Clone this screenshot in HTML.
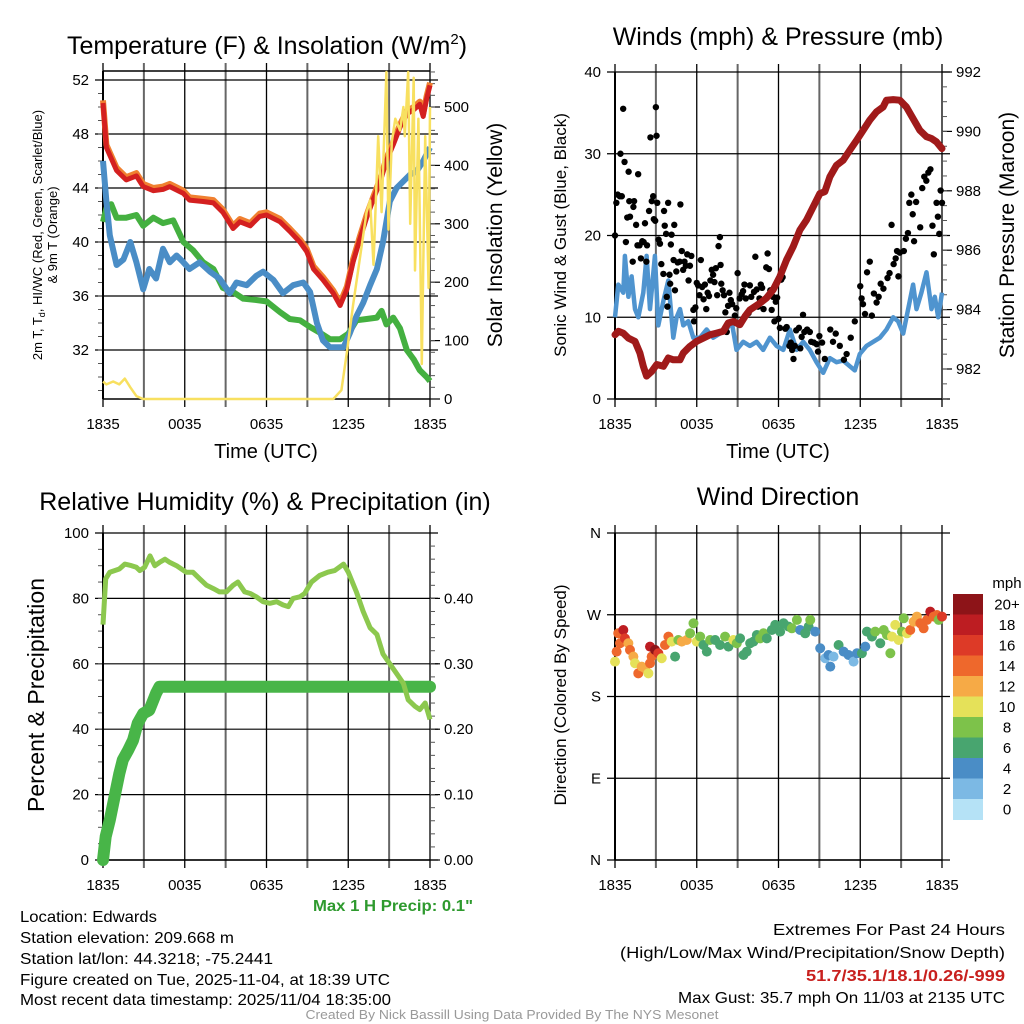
<!DOCTYPE html>
<html><head><meta charset="utf-8"><style>
html,body{margin:0;padding:0;background:#fff;}
svg{display:block;font-family:"Liberation Sans",Arial,sans-serif;}
</style></head><body>
<svg id="fig" width="1024" height="1024" viewBox="0 0 1024 1024" xmlns="http://www.w3.org/2000/svg">
<rect width="1024" height="1024" fill="#fff"/>
<g id="tl"></g>
<g id="tr"></g>
<g id="bl"></g>
<g id="br"></g>
<text x="267" y="54" font-size="25" text-anchor="middle">Temperature (F) &amp; Insolation (W/m<tspan font-size="15" dy="-10">2</tspan><tspan dy="10">)</tspan></text>
<text x="778" y="45" font-size="25" text-anchor="middle">Winds (mph) &amp; Pressure (mb)</text>
<text x="265" y="510" font-size="25" text-anchor="middle">Relative Humidity (%) &amp; Precipitation (in)</text>
<text x="778" y="505" font-size="25" text-anchor="middle">Wind Direction</text>
<text x="393" y="911" font-size="16" font-weight="bold" fill="#2e9a2e" text-anchor="middle" textLength="160" lengthAdjust="spacingAndGlyphs">Max 1 H Precip: 0.1"</text>
<g font-size="16">
<text x="20" y="922" textLength="137" lengthAdjust="spacingAndGlyphs">Location: Edwards</text>
<text x="20" y="943" textLength="214" lengthAdjust="spacingAndGlyphs">Station elevation: 209.668 m</text>
<text x="20" y="964" textLength="253" lengthAdjust="spacingAndGlyphs">Station lat/lon: 44.3218; -75.2441</text>
<text x="20" y="985" textLength="370" lengthAdjust="spacingAndGlyphs">Figure created on Tue, 2025-11-04, at 18:39 UTC</text>
<text x="20" y="1005" textLength="371" lengthAdjust="spacingAndGlyphs">Most recent data timestamp: 2025/11/04 18:35:00</text>
</g>
<g font-size="16" text-anchor="end">
<text x="1005" y="935" textLength="232" lengthAdjust="spacingAndGlyphs">Extremes For Past 24 Hours</text>
<text x="1005" y="958" textLength="385" lengthAdjust="spacingAndGlyphs">(High/Low/Max Wind/Precipitation/Snow Depth)</text>
<text x="1005" y="981" fill="#c8201e" font-weight="bold" textLength="199" lengthAdjust="spacingAndGlyphs">51.7/35.1/18.1/0.26/-999</text>
<text x="1005" y="1003" textLength="327" lengthAdjust="spacingAndGlyphs">Max Gust: 35.7 mph On 11/03 at 2135 UTC</text>
</g>
<text x="512" y="1019" font-size="13" fill="#999" text-anchor="middle" textLength="413" lengthAdjust="spacingAndGlyphs">Created By Nick Bassill Using Data Provided By The NYS Mesonet</text>
</svg>
<script>
// ---------- data ----------
const timeTicks=[0,6,12,18,24];
const timeLabels=["1835","0035","0635","1235","1835"];
const tempTicks=[32,36,40,44,48,52];
const solarTicks=[0,100,200,300,400,500];
const windTicks=[0,10,20,30,40];
const presTicks=[982,984,986,988,990,992];
const rhTicks=[0,20,40,60,80,100];
const precipTicks=[0,0.1,0.2,0.3,0.4];
const precipLabels=["0.00","0.10","0.20","0.30","0.40"];
const dirTicks=[0,90,180,270,360];
const dirLabels=["N","E","S","W","N"];

const tempH=[0,0.25,1.0,1.7,2.45,2.95,3.7,4.4,4.9,5.9,6.35,7.35,8.1,8.8,9.55,10.05,10.8,11.5,12.0,13.0,13.7,14.45,14.95,15.45,16.15,16.9,17.4,17.9,18.35,18.85,19.35,19.85,20.35,20.8,21.3,21.8,22.3,22.8,23.25,23.5,23.75,24];
const tempT=[50.3,47,45.3,44.6,44.9,44.1,43.8,43.9,44.1,43.6,43.1,43,42.9,42.2,41,41.5,41.2,41.9,42,41.5,40.8,40,39.3,38,37.2,36.2,35.3,36.5,38.5,40.2,41.8,43.2,44.5,46,47.2,48.5,49.5,49.8,50.2,49.3,50.6,51.6];
const wcH=[0,0.25,0.5,1.0,1.5,2.0,2.45,2.95,3.4,3.9,4.4,4.9,5.4,5.9,6.35,7.1,7.85,8.55,9.3,9.8,10.55,11.25,11.75,12.5,13.2,13.95,14.7,15.2,15.7,16.15,16.65,17.15,17.65,18.1,18.6,19.1,19.6,20.1,20.55,21.05,21.55,22.05,22.55,23.0,23.5,24];
const wcT=[46,43,40.5,38.3,38.7,40,38.5,36.5,38,37.3,39.5,38.5,39,38.5,38,38.5,37.8,37.3,36.2,37,36.8,37.5,37.8,37.2,36.2,36.8,37,36.3,34,32.7,32.2,32.2,32.2,33.2,34.5,35.5,36.8,38,40,43,44,44.5,45,45.2,46,47];
const tdH=[0,0.25,0.6,1.0,1.7,2.45,2.95,3.7,4.4,5.15,5.9,6.6,7.35,8.1,8.8,9.55,10.3,11.25,12.0,13.0,13.7,14.45,15.2,15.9,16.65,17.4,18.0,18.6,19.35,20.1,20.45,20.8,21.3,21.8,22.3,22.8,23.25,23.75,24];
const tdT=[41.5,42.5,42.8,41.8,41.8,42,41.2,41.8,41.4,41.6,40,39.4,38.5,38,36.6,36.3,35.8,35.7,35.6,34.8,34.3,34.2,33.7,33.3,32.8,32.8,33.2,34.2,34.3,34.4,34.9,33.9,34.4,33.6,32,31.3,30.5,30,29.7];
const solH=[0,0.25,0.75,1.2,1.6,2.0,2.45,2.95,16.9,17.5,17.9,18.35,18.85,19.35,19.6,19.85,20.2,20.45,20.8,20.95,21.2,21.45,21.8,22.05,22.15,22.4,22.55,22.8,22.9,23.15,23.4,23.65,23.9,24];
const solW=[30,25,30,25,35,20,5,0,0,15,80,160,240,320,340,230,450,320,560,290,440,480,460,500,450,560,300,550,220,480,60,450,190,500];

const presH=[0,0.25,0.6,0.98,1.47,1.83,2.08,2.32,2.69,3.06,3.55,3.91,4.28,4.77,5.01,5.5,5.99,6.48,6.97,7.46,7.95,8.31,8.68,9.17,9.54,9.9,10.64,11.12,11.61,12.1,12.59,13.08,13.57,14.06,14.55,15.04,15.4,15.77,16.26,16.75,17.24,17.73,18.22,18.7,19.19,19.68,19.93,20.42,20.9,21.39,21.88,22.37,22.86,23.23,23.59,24];
const presMb=[983.15,983.27,983.21,983.04,982.93,982.54,982.09,981.76,981.92,982.15,982.09,982.37,982.31,982.31,982.54,982.76,982.93,983.04,983.15,983.21,983.27,983.55,983.6,983.49,983.77,983.99,984.22,984.39,984.67,985.11,985.67,986.12,986.68,987.02,987.46,987.91,987.97,988.47,988.86,989.03,989.37,989.7,990.04,990.38,990.66,990.82,991.05,991.07,991.05,990.82,990.43,990.04,989.82,989.76,989.65,989.42];
const windH=[0,0.24,0.61,0.73,0.98,1.22,1.47,1.71,2.08,2.32,2.57,2.93,3.18,3.55,3.91,4.28,4.52,4.77,5.01,5.38,5.75,6.24,6.72,7.21,7.7,8.19,8.56,8.92,9.41,9.9,10.39,10.88,11.37,11.86,12.35,12.84,13.33,13.81,14.3,14.79,15.28,15.77,16.26,16.75,17.24,17.6,17.97,18.46,18.95,19.44,19.93,20.42,20.78,21.15,21.64,21.88,22.13,22.49,22.86,23.23,23.47,23.72,24];
const windMph=[10,14,13,17.5,12.5,15,11,10,13,17.5,11,17.5,9,12,14.5,7.5,10,11,9,9.5,7.5,7.5,8.5,7.5,8,8.5,9.5,6,7,6.5,7,6,7.5,6.5,6,8.5,6,7,6,4.5,3.2,5,4.5,4.7,4,3.5,5.5,6.5,7,7.5,8.5,10,9.5,8,12,14,11,13,15.5,11,12.5,10,13];
const gustH=[0,0.1,0.2,0.35,0.5,0.6,0.4,0.7,0.8,0.9,1.0,1.05,1.1,1.3,1.35,1.4,1.55,1.65,1.7,1.8,1.9,2.0,2.1,2.2,2.3,2.35,2.5,2.6,2.7,2.8,2.85,2.95,3.0,3.05,3.1,3.2,3.3,3.4,3.55,3.6,3.65,3.75,3.8,3.85,3.9,4.0,4.05,4.1,4.15,4.3,4.35,4.4,4.5,4.6,4.8,4.75,4.9,5.0,5.1,5.2,5.3,5.4,5.5,5.6,5.8,5.75,5.9,6.0,6.1,6.2,6.3,6.4,6.5,6.6,6.7,6.8,6.9,7.0,7.1,7.2,7.3,7.4,7.5,7.6,7.7,7.75,7.8,7.9,8.0,8.1,8.2,8.3,8.4,8.5,8.6,8.8,8.9,9.0,9.15,9.3,9.4,9.5,9.6,9.8,9.9,10.0,10.2,10.3,10.4,10.5,10.6,10.7,10.8,10.9,11.0,11.1,11.2,11.3,11.4,11.5,11.6,11.7,11.8,11.9,12.0,12.1,12.2,12.3,12.5,12.6,12.8,12.9,13.0,13.1,13.2,13.3,13.5,13.6,13.7,13.8,13.9,14.1,14.3,14.4,14.6,14.8,14.9,15.0,15.2,15.4,15.8,16.0,16.2,16.5,16.8,17.0,17.3,17.6,18.0,18.1,18.2,18.35,18.5,18.7,18.85,19.0,19.2,19.35,19.5,19.7,20.0,20.15,20.3,20.45,20.6,20.7,20.8,20.9,21.2,21.35,21.5,21.6,21.75,21.85,21.95,22.1,22.4,22.55,22.7,22.85,23.0,23.15,23.3,23.4,23.6,23.7,23.8,23.9,24.0];
const gustMph=[20,24,25,24.8,24.8,35.5,30,29,19.2,22.2,27.8,24.2,22.3,16.8,23.5,24.2,21.3,18.8,27.5,18.8,17.2,19.3,19.2,21.5,16.8,18.8,23,32,24.2,24.8,22,21.8,35.7,32.2,24,19.5,19,16.5,15.3,23,21.2,20.2,12.5,11.3,24,15.2,14.1,18.9,20.1,17,21.3,13.3,15.6,16.7,23.8,16.8,18.1,15.8,16.8,16.3,17.7,14.5,16.3,17.5,9.5,10.9,11.2,14.2,13.9,12.7,17,13.7,12.2,14,11,13,12.6,14.5,15.8,15.2,14.3,16,12.7,18.7,19.8,16.4,14.1,13.3,12.7,10.6,8.2,11.4,13,12.1,11.6,10.2,11.1,15.4,12.3,12.8,13.2,14,12.3,10.5,13.9,12.5,13.1,17.4,13.4,11.3,12.3,14,13.6,11,12.2,16.1,17.8,15.9,13.3,10.9,12.5,9.5,11.9,12.4,9.8,8.7,14.6,14.9,8.6,8.8,6.5,6.9,6,4.9,6.5,8.4,8.7,6.2,7.6,10.3,8.2,8.5,8.2,7,6.9,6.7,5.8,7.7,6.9,4.9,8.5,7,8,6.5,4.8,5.5,7.5,9.5,13.8,12.3,11.6,10.4,15.5,16.8,10.2,12.9,11.8,12.5,14.1,13.5,14.8,15.4,21.3,16.5,17.2,18.1,15,17.9,18.1,19.6,20.3,24,25,22.6,19.3,24.1,21,25.8,27.2,26.7,27.7,28.1,21.2,17.7,24,22.3,20.2,25.5,24];

const rhH=[0,0.2,0.5,0.85,1.2,1.6,2.1,2.45,2.7,3.05,3.45,3.8,4.15,4.55,4.9,5.4,6.1,6.6,7.1,7.6,8.1,8.55,9.05,9.55,9.9,10.4,10.8,11.25,11.75,12.25,12.75,13.2,13.6,13.95,14.45,14.8,15.3,15.9,16.5,17.0,17.65,18.0,18.6,19.1,19.6,20.1,20.55,21.05,21.55,22.05,22.4,22.9,23.25,23.65,24];
const rhPct=[72,86,88,88.5,89,90.5,90,89.5,88.5,89.5,93,90,91,92,91,90,88,88,86,84,83,82,82,84,85,82,81.5,80.5,79,78.5,79,78,77.5,80,80.5,81.5,85,87,88,88.5,90.5,88,82,76,71,69,63,60,57,54,49,47,46,48,43];
const prH=[0,0.2,0.5,0.85,1.2,1.45,1.85,2.2,2.55,2.95,3.4,3.65,3.9,4.15,24];
const prIn=[0,0.036,0.061,0.097,0.132,0.153,0.168,0.183,0.209,0.224,0.229,0.242,0.255,0.265,0.265];

const dirH=[0,0.12,0.24,0.37,0.61,0.73,0.98,1.1,1.35,1.47,1.71,1.96,2.2,2.45,2.57,2.69,2.57,2.94,3.18,3.43,3.67,3.92,4.16,4.41,4.65,4.9,5.27,5.51,5.76,6.0,6.25,6.49,6.74,6.98,7.35,7.71,8.08,8.33,8.69,8.94,9.18,9.43,9.67,9.92,10.16,10.41,10.65,10.9,11.14,11.51,11.76,12.12,12.37,12.74,12.98,13.35,13.59,13.96,14.21,14.33,14.69,15.06,15.43,15.67,15.8,16.04,16.41,16.78,17.14,17.51,17.76,18.12,18.37,18.49,18.86,19.1,19.47,19.72,19.96,20.21,20.33,20.57,20.82,21.06,21.19,21.43,21.67,21.92,22.16,22.41,22.65,22.9,23.14,23.39,23.63,23.76,24];
const dirDeg=[218.4,229.4,249.6,238.6,253.2,244.0,238.6,231.3,223.9,216.6,205.5,212.9,211.1,205.5,216.6,223.9,234.9,231.3,227.6,222.1,236.7,245.9,240.4,223.9,242.2,240.4,242.2,249.6,260.6,240.4,245.9,236.7,229.4,242.2,242.2,236.7,245.9,234.9,242.2,238.6,244.0,225.7,229.4,238.6,240.4,247.7,244.0,249.6,244.0,253.2,258.8,251.4,260.6,256.9,255.1,264.3,253.2,249.6,256.9,264.3,251.4,233.1,222.1,225.7,212.9,223.9,236.7,229.4,225.7,218.4,227.6,227.6,234.9,251.4,245.9,251.4,238.6,253.2,247.7,227.6,245.9,258.8,242.2,251.4,266.1,249.6,253.2,262.4,268.0,260.6,255.1,264.3,273.4,268.0,269.7,264.3,268.0];
const dirSpd=[10,14,15,14,18,16,12,14,12,10,15,12,13,10,15,14,19,20,16,10,14,15,10,6,9,12,13,8,8,10,9,6,6,8,7,6,8,7,10,8,6,6,6,6,7,6,8,8,6,6,6,6,7,6,8,8,4,6,6,8,4,4,3,4,4,3,6,4,4,3,4,6,4,6,6,8,7,8,8,8,10,10,10,8,8,10,14,12,12,14,15,14,18,14,15,8,16];
const spdBins=[0,2,4,6,8,10,12,14,16,18,20];
const spdLabels=["0","2","4","6","8","10","12","14","16","18","20+"];
const spdColors=["#b5e2f6","#7cb9e4","#4a8dc6","#48a56f","#7dc24a","#e5e159","#f6aa46","#ee682c","#dd3a27","#bd1d22","#8d1418"];

// ---------- helpers ----------
const NS="http://www.w3.org/2000/svg";
function mk(parent,tag,attrs,txt){const e=document.createElementNS(NS,tag);for(const k in attrs)e.setAttribute(k,attrs[k]);if(txt!==undefined)e.textContent=txt;parent.appendChild(e);return e;}
function lin(d0,d1,r0,r1){return v=>r0+(v-d0)*(r1-r0)/(d1-d0);}
function pathD(xs,ys,fx,fy){return xs.map((x,i)=>(i?"L":"M")+fx(x).toFixed(1)+","+fy(ys[i]).toFixed(1)).join("");}

function frame(g,X0,X1,Y0,Y1,xs){
  for(let h=0;h<=24;h+=3){
    const x=xs(h);
    const ln=mk(g,"line",{x1:x,x2:x,y1:Y0-8,y2:Y1+8,stroke:(h%6===0)?"#000":"#666","stroke-width":(h%6===0)?1.3:2});
    
    
  }
  timeTicks.forEach((h,i)=>{
    const t=mk(g,"text",{x:xs(h),y:Y1+30,"font-size":15,"text-anchor":"middle"},timeLabels[i]);
    
    
  });
}
function hgrid(g,X0,X1,y){
  const l=mk(g,"line",{x1:X0-8,x2:X1+8,y1:y,y2:y,stroke:"#000","stroke-width":1.2});
  
  
}
function leftLabels(g,X0,vals,labs,fy){
  vals.forEach((v,i)=>{const t=mk(g,"text",{x:X0-14,y:fy(v)+5,"font-size":15,"text-anchor":"end"},labs[i]);
    
    });
}
function rightLabels(g,X1,vals,labs,fy){
  vals.forEach((v,i)=>{
    mk(g,"line",{x1:X1,x2:X1+10,y1:fy(v),y2:fy(v),stroke:"#000","stroke-width":1.2});
    const t=mk(g,"text",{x:X1+14,y:fy(v)+5,"font-size":15},labs[i]);
    
    });
}
function minor(g,X,y0,y1,step,out){
  for(let y=y0;y<=y1;y+=step){mk(g,"line",{x1:X,x2:X+out,y1:y,y2:y,stroke:"#555","stroke-width":1});}
}

// ---------- Panel 1: temperature ----------
(function(){
  const g=document.getElementById("tl");
  const X0=103,X1=430,Y0=71,Y1=399;
  const xs=lin(0,24,X0,X1), yT=lin(32,52,350,80), yS=lin(0,500,399,107);
  frame(g,X0,X1,Y0,Y1,xs);
  mk(g,"line",{x1:X0,x2:X1,y1:Y0,y2:Y0,stroke:"#000","stroke-width":1.5});
  tempTicks.forEach(v=>hgrid(g,X0,X1,yT(v)));
  leftLabels(g,X0,tempTicks,tempTicks.map(String),yT);
  rightLabels(g,X1,solarTicks,solarTicks.map(String),yS);
  minor(g,X0-5,yT(52)+(yT(31)-yT(32)),Y1,(yT(31)-yT(32)),5);
  minor(g,X1,yS(560),Y1,(yS(0)-yS(20)),5);
  mk(g,"line",{x1:X0,x2:X0,y1:Y0,y2:Y1,stroke:"#000","stroke-width":2});
  mk(g,"line",{x1:X0,x2:X1,y1:Y1,y2:Y1,stroke:"#000","stroke-width":1.5});
  const td=mk(g,"path",{d:pathD(tdH,tdT,xs,yT),fill:"none",stroke:"#44b040","stroke-width":6,"stroke-linejoin":"round"});
   
  const wc=mk(g,"path",{d:pathD(wcH,wcT,xs,yT),fill:"none",stroke:"#4a8dc6","stroke-width":6,"stroke-linejoin":"round"});
   
  const o=mk(g,"path",{d:pathD(tempH,tempT.map(v=>v+0.2),xs,yT),fill:"none",stroke:"#f08030","stroke-width":6,"stroke-linejoin":"round"});
   
  const r=mk(g,"path",{d:pathD(tempH,tempT,xs,yT),fill:"none",stroke:"#d42020","stroke-width":5,"stroke-linejoin":"round"});
   
  const s=mk(g,"path",{d:pathD(solH,solW,xs,yS),fill:"none",stroke:"#f8e060","stroke-width":2.5,"stroke-linejoin":"round"});
   
  mk(g,"text",{x:266,y:458,"font-size":20,"text-anchor":"middle",},"Time (UTC)");
  const a=mk(g,"text",{transform:"translate(42,235) rotate(-90)","font-size":13,"text-anchor":"middle"},"2m T, T");
   
  a.innerHTML='2m T, T<tspan font-size="9" dy="3">d</tspan><tspan dy="-3">, HI/WC (Red, Green, Scarlet/Blue)</tspan>';
  const b=mk(g,"text",{transform:"translate(57,235) rotate(-90)","font-size":13,"text-anchor":"middle"},"& 9m T (Orange)");
   
  const c=mk(g,"text",{transform:"translate(502,235) rotate(-90)","font-size":21,"text-anchor":"middle"},"Solar Insolation (Yellow)");
   
})();

// ---------- Panel 2: winds ----------
(function(){
  const g=document.getElementById("tr");
  const X0=615,X1=942,Y0=72,Y1=399;
  const xs=lin(0,24,X0,X1), yW=lin(0,40,399,72), yP=lin(982,992,369,72);
  frame(g,X0,X1,Y0,Y1,xs);
  windTicks.forEach(v=>hgrid(g,X0,X1,yW(v)));
  leftLabels(g,X0,windTicks,windTicks.map(String),yW);
  rightLabels(g,X1,presTicks,presTicks.map(String),yP);
  minor(g,X1,yP(991.5),Y1,(yP(991)-yP(991.5)),5);
  mk(g,"line",{x1:X0,x2:X0,y1:Y0,y2:Y1,stroke:"#000","stroke-width":2});
  mk(g,"line",{x1:X0,x2:X1,y1:Y1,y2:Y1,stroke:"#000","stroke-width":1.5});
  const w=mk(g,"path",{d:pathD(windH,windMph,xs,yW),fill:"none",stroke:"#4f94cf","stroke-width":4.5,"stroke-linejoin":"round"});
   
  gustH.forEach((h,i)=>{
    const d=mk(g,"circle",{cx:xs(h),cy:yW(gustMph[i]),r:3.2,fill:"#000"});
    
    
  });
  const p=mk(g,"path",{d:pathD(presH,presMb,xs,yP),fill:"none",stroke:"#a01a1a","stroke-width":7,"stroke-linejoin":"round","stroke-linecap":"round"});
   
  mk(g,"text",{x:778,y:458,"font-size":20,"text-anchor":"middle",},"Time (UTC)");
  const a=mk(g,"text",{transform:"translate(566,235) rotate(-90)","font-size":17,"text-anchor":"middle"},"Sonic Wind & Gust (Blue, Black)");
   
  const c=mk(g,"text",{transform:"translate(1014,235) rotate(-90)","font-size":21,"text-anchor":"middle"},"Station Pressure (Maroon)");
   
})();

// ---------- Panel 3: RH & precip ----------
(function(){
  const g=document.getElementById("bl");
  const X0=103,X1=430,Y0=533,Y1=860;
  const xs=lin(0,24,X0,X1), yR=lin(0,100,860,533), yI=lin(0,0.5,860,533);
  frame(g,X0,X1,Y0,Y1,xs);
  rhTicks.forEach(v=>hgrid(g,X0,X1,yR(v)));
  leftLabels(g,X0,rhTicks,rhTicks.map(String),yR);
  rightLabels(g,X1,precipTicks,precipLabels,yI);
  minor(g,X0-5,yR(95),Y1,(yR(0)-yR(5)),5);
  minor(g,X1,yI(0.48),Y1,(yI(0)-yI(0.02)),5);
  mk(g,"line",{x1:X0,x2:X0,y1:Y0,y2:Y1,stroke:"#000","stroke-width":2});
  mk(g,"line",{x1:X0,x2:X1,y1:Y1,y2:Y1,stroke:"#000","stroke-width":1.5});
  const pr=mk(g,"path",{d:pathD(prH,prIn,xs,yI),fill:"none",stroke:"#48b548","stroke-width":12,"stroke-linejoin":"round","stroke-linecap":"round"});
   
  const rh=mk(g,"path",{d:pathD(rhH,rhPct,xs,yR),fill:"none",stroke:"#8cc84e","stroke-width":5,"stroke-linejoin":"round"});
   
  const a=mk(g,"text",{transform:"translate(44,695) rotate(-90)","font-size":23,"text-anchor":"middle"},"Percent & Precipitation");
   
})();

// ---------- Panel 4: wind direction ----------
(function(){
  const g=document.getElementById("br");
  const X0=615,X1=942,Y0=533,Y1=860;
  const xs=lin(0,24,X0,X1), yD=lin(0,360,860,533);
  frame(g,X0,X1,Y0,Y1,xs);
  dirTicks.forEach(v=>hgrid(g,X0,X1,yD(v)));
  leftLabels(g,X0,dirTicks,dirLabels,yD);
  mk(g,"line",{x1:X0,x2:X0,y1:Y0,y2:Y1,stroke:"#000","stroke-width":2});
  mk(g,"line",{x1:X0,x2:X1,y1:Y1,y2:Y1,stroke:"#000","stroke-width":1.5});
  function colorFor(s){let k=0;for(let i=0;i<spdBins.length;i++){if(s>=spdBins[i])k=i;}return spdColors[k];}
  dirH.forEach((h,i)=>{
    const d=mk(g,"circle",{cx:xs(h),cy:yD(dirDeg[i]),r:5,fill:colorFor(dirSpd[i])});
    
    
  });
  const a=mk(g,"text",{transform:"translate(566,695) rotate(-90)","font-size":17,"text-anchor":"middle"},"Direction (Colored By Speed)");
   
  const cb=mk(g,"g",{});
  
  
  const top=594,bh=20.5;
  spdColors.slice().reverse().forEach((c,i)=>{
    const r=mk(cb,"rect",{x:953,y:top+i*bh,width:30,height:bh+0.5,fill:c});
    
    
    const t=mk(cb,"text",{x:1007,y:top+i*bh+bh/2+5,"font-size":15,"text-anchor":"middle"},spdLabels[spdLabels.length-1-i]);
    
    
  });
  const u=mk(cb,"text",{x:1007,y:588,"font-size":15,"text-anchor":"middle"},"mph");
  
  
})();
</script>
</body></html>
